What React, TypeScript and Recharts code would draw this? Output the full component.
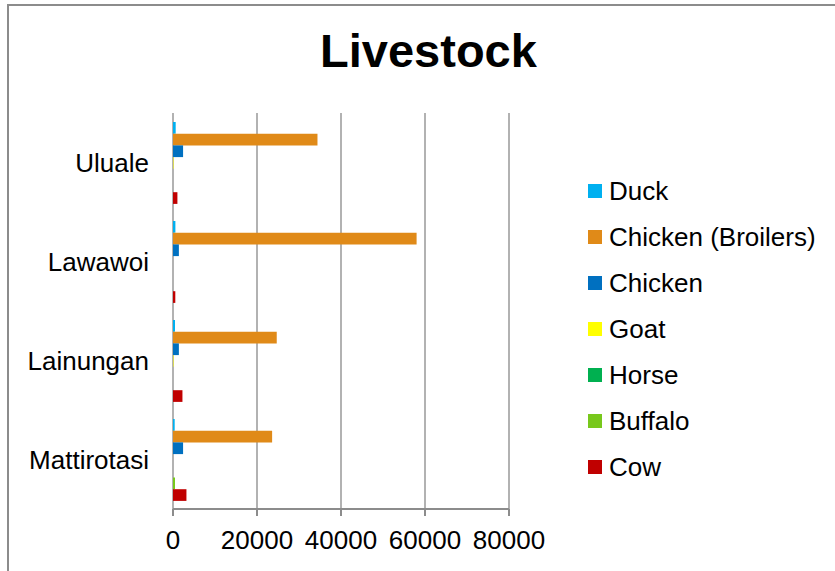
import { BarChart, Bar, XAxis, YAxis, CartesianGrid, Legend } from "recharts";

// livestock counts per village
const places = ["Uluale", "Lawawoi", "Lainungan", "Mattirotasi"];
const duck = [640, 570, 480, 400];
const broilers = [34400, 58000, 24700, 23600];
const chicken = [2400, 1400, 1400, 2400];
const goat = [120, 0, 120, 0];
const horse = [0, 0, 0, 0];
const buffalo = [0, 0, 0, 480];
const cow = [1050, 550, 2250, 3200];

const seriesKeys = ["duck", "broilers", "chicken", "goat", "horse", "buffalo", "cow"];
const seriesNames = ["Duck", "Chicken (Broilers)", "Chicken", "Goat", "Horse", "Buffalo", "Cow"];
const seriesColors = ["#00b0f0", "#e08a18", "#0070c0", "#ffff00", "#00b050", "#78c81c", "#c00000"];
const seriesValues = [duck, broilers, chicken, goat, horse, buffalo, cow];

const xTicks = [0, 20000, 40000, 60000, 80000];
// boundaries between the village bands, used for the left axis tick marks
const bandTicks = [0, 1, 2, 3, 4];

const data = places.map((name, i) => {
  const row: Record<string, string | number> = { name };
  seriesKeys.forEach((key, k) => {
    row[key] = seriesValues[k][i];
  });
  return row;
});

const FONT = '"Liberation Sans", Arial, Helvetica, sans-serif';
const AXIS = "#8c8c8c";
const GRID = "#999999";

const renderLegend = () => (
  <div style={{ fontFamily: FONT, fontSize: 26, color: "#000" }}>
    {seriesNames.map((name, i) => (
      <div key={name} style={{ display: "flex", alignItems: "center", height: 46 }}>
        <span
          style={{
            display: "inline-block",
            width: 14,
            height: 14,
            background: seriesColors[i],
            marginRight: 7,
          }}
        />
        <span>{name}</span>
      </div>
    ))}
  </div>
);

export default function App() {
  return (
    <div style={{ position: "absolute", left: 0, top: 0, width: 835, height: 571, overflow: "hidden", background: "#fff" }}>
      <div
        style={{
          position: "absolute",
          left: 7,
          top: 4,
          width: 850,
          height: 600,
          border: `2px solid ${AXIS}`,
          boxSizing: "border-box",
        }}
      />
      <div
        style={{
          position: "absolute",
          left: 0,
          top: 27,
          width: 857,
          textAlign: "center",
          fontFamily: FONT,
          fontWeight: "bold",
          fontSize: 47,
          lineHeight: "47px",
          color: "#000",
        }}
      >
        Livestock
      </div>
      <div style={{ position: "absolute", left: 0, top: 0 }}>
        <BarChart
          width={835}
          height={571}
          data={data}
          layout="vertical"
          barSize={11.7}
          barGap={0}
          margin={{ top: 113, right: 326, bottom: 0, left: 0 }}
        >
          <CartesianGrid yAxisId="cat" horizontal={false} stroke={GRID} strokeWidth={1.5} />
          <XAxis
            type="number"
            domain={[0, 80000]}
            ticks={xTicks}
            interval={0}
            height={62}
            tickSize={7}
            tickMargin={15}
            axisLine={{ stroke: AXIS, strokeWidth: 2 }}
            tickLine={{ stroke: AXIS, strokeWidth: 2 }}
            tick={{ fill: "#000", fontSize: 26, fontFamily: FONT }}
          />
          <YAxis
            yAxisId="band"
            type="number"
            domain={[0, 4]}
            ticks={bandTicks}
            interval={0}
            width={0}
            tick={false}
            tickSize={7}
            axisLine={{ stroke: AXIS, strokeWidth: 2 }}
            tickLine={{ stroke: AXIS, strokeWidth: 2 }}
          />
          <YAxis
            yAxisId="cat"
            type="category"
            dataKey="name"
            interval={0}
            width={173}
            tickSize={0}
            tickMargin={24}
            axisLine={false}
            tickLine={false}
            tick={{ fill: "#000", fontSize: 26, fontFamily: FONT }}
          />
          {seriesKeys.map((key, i) => (
            <Bar
              key={key}
              yAxisId="cat"
              dataKey={key}
              name={seriesNames[i]}
              fill={seriesColors[i]}
              isAnimationActive={false}
            />
          ))}
          <Legend
            content={renderLegend}
            layout="horizontal"
            align="center"
            verticalAlign="middle"
            wrapperStyle={{ left: 588, top: 168, width: 245 }}
          />
        </BarChart>
      </div>
    </div>
  );
}
